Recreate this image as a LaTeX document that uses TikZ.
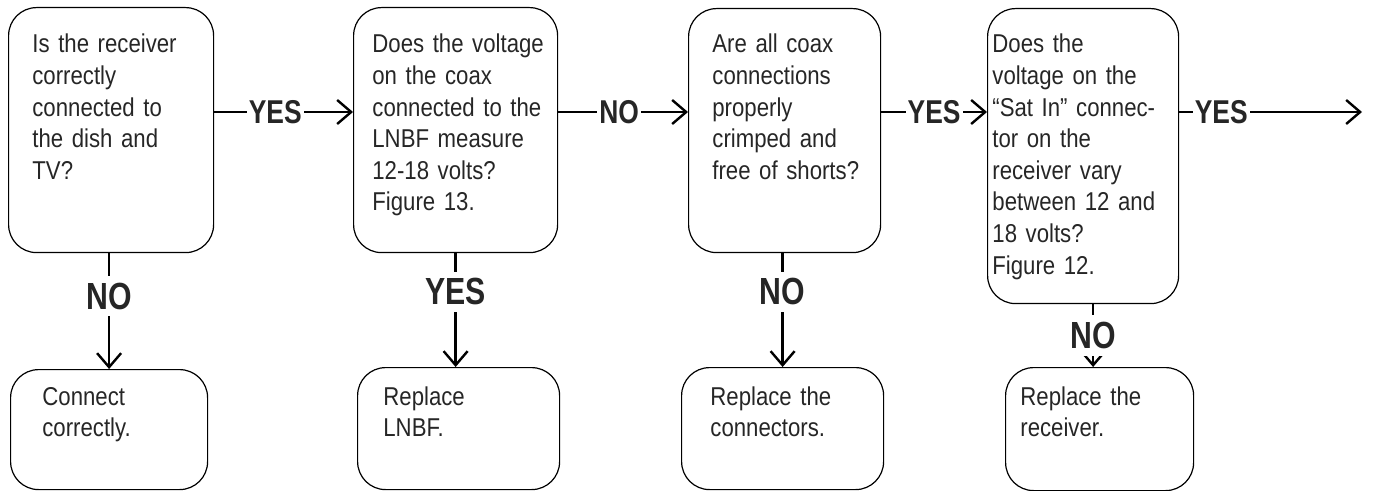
\documentclass[tikz,border=0pt]{standalone}
\usepackage{fontspec}
\usepackage{tikz}
\usetikzlibrary{arrows.meta}
\setmainfont{Liberation Sans}
\newfontfamily\bodyfont[FakeStretch=0.86]{Liberation Sans}
\newfontfamily\lblfont[FakeStretch=0.8]{Liberation Sans}

\begin{document}
\begin{tikzpicture}[x=0.5pt, y=-0.5pt,
        frame/.style={draw, rounded corners=14pt, line width=0.6pt, anchor=north west, inner sep=0pt},
        txt/.style={anchor=base west, inner sep=0pt, text width=100pt, align=left, text=black!85,
            font=\bodyfont\fontsize{12.9}{15.8}\selectfont},
        arr/.style={line width=1.2pt, -{Straight Barb[length=7pt,width=12pt]}},
        hlbl/.style={fill=white, inner xsep=1pt, inner ysep=2pt, text=black!85,
            font=\lblfont\bfseries\fontsize{16.5}{16}\selectfont},
        vlbl/.style={fill=white, inner xsep=1pt, inner ysep=3.5pt, text=black!85,
            font=\lblfont\bfseries\fontsize{18.9}{19}\selectfont}]
        \useasboundingbox (0,0) rectangle (1374,491);

        % question boxes
        \node[frame, minimum width=102.5pt, minimum height=122.5pt] (Q1) at (8,7) {};
        \node[frame, minimum width=102pt, minimum height=122.5pt] (Q2) at (353,7) {};
        \node[frame, minimum width=96pt, minimum height=122pt] (Q3) at (688,8) {};
        \node[frame, minimum width=95.5pt, minimum height=147.5pt] (Q4) at (987,8) {};

        \node[txt] (Q1t) at (32,53) {Is the receiver\\correctly\\connected to\\the dish and\\TV?};
        \node[txt] (Q2t) at (372,53) {Does the voltage\\on the coax\\connected to the\\LNBF measure\\12-18 volts?\\Figure 13.};
        \node[txt] (Q3t) at (712,53) {Are all coax\\connections\\properly\\crimped and\\free of shorts?};
        \node[txt] (Q4t) at (992,53) {Does the\\voltage on the\\“Sat In” connec-\\tor on the\\receiver vary\\between 12 and\\18 volts?\\Figure 12.};

        % result boxes
        \node[frame, minimum width=98.5pt, minimum height=60pt] (R1) at (10,369) {};
        \node[frame, minimum width=101pt, minimum height=61pt] (R2) at (357,367) {};
        \node[frame, minimum width=101pt, minimum height=61pt] (R3) at (681,367) {};
        \node[frame, minimum width=94pt, minimum height=61.5pt] (R4) at (1005,367) {};

        \node[txt] (R1t) at (42,405) {Connect\\correctly.};
        \node[txt] (R2t) at (383,405) {Replace\\LNBF.};
        \node[txt] (R3t) at (710,405) {Replace the\\connectors.};
        \node[txt] (R4t) at (1020,405) {Replace the\\receiver.};

        \coordinate (row) at (0,112);
        \coordinate (out) at (1362,112);
        \coordinate (c4) at ([xshift=5pt]Q4.south);

        \draw[arr] (Q1.east |- row) -- node[hlbl, pos=0.44] {YES} (Q2.west |- row);
        \draw[arr] (Q2.east |- row) -- node[hlbl, pos=0.47] {NO} (Q3.west |- row);
        \draw[arr] (Q3.east |- row) -- node[hlbl, pos=0.5] {YES} (Q4.west |- row);
        \draw[arr] (Q4.east |- row) -- node[hlbl, pos=0.23] {YES} (out);

        \draw[arr] (Q1.south -| R1.north) -- node[vlbl, pos=0.37] {NO} (R1.north);
        \draw[arr] (Q2.south) -- node[vlbl, pos=0.34] {YES} (Q2.south |- R2.north);
        \draw[arr] (Q3.south -| R3.north) -- node[vlbl, pos=0.34] {NO} (R3.north);
        \draw[arr] (c4) -- node[vlbl, pos=0.5] {NO} (c4 |- R4.north);
    \end{tikzpicture}
\end{document}
